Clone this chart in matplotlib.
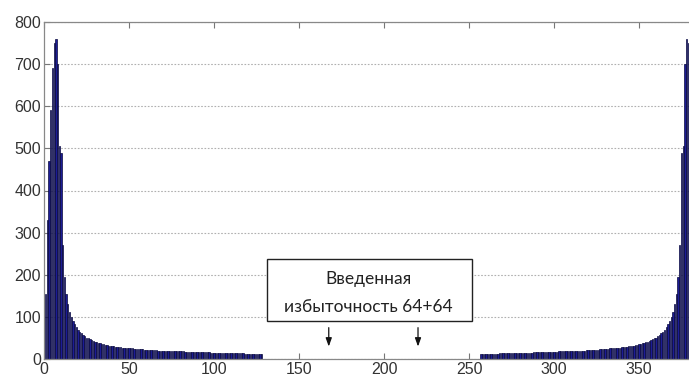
import numpy as np
import matplotlib
matplotlib.use("Agg")
import matplotlib.pyplot as plt
from matplotlib.patches import Rectangle

# Spectrum magnitudes: low-frequency block (bins 1..128)
low_bins = list(range(1, 129))
low_vals = [
    155, 330, 470, 590, 690, 750, 760, 700, 505, 490,
    270, 195, 155, 130, 112, 100, 90, 82, 75, 70,
    65, 61, 57, 54, 51, 49, 47, 45, 43, 41,
    40, 38, 37, 36, 35, 34, 33, 32, 31, 31,
    30, 29, 29, 28, 28, 27, 27, 26, 26, 25,
    25, 25, 24, 24, 24, 23, 23, 23, 22, 22,
    22, 22, 21, 21, 21, 21, 20, 20, 20, 20,
    20, 19, 19, 19, 19, 19, 18, 18, 18, 18,
    18, 18, 17, 17, 17, 17, 17, 17, 17, 16,
    16, 16, 16, 16, 16, 16, 16, 15, 15, 15,
    15, 15, 15, 15, 15, 15, 15, 14, 14, 14,
    14, 14, 14, 14, 14, 14, 14, 13, 13, 13,
    13, 13, 13, 13, 13, 13, 13, 13,
]

# Inserted redundancy: zero bins 129..256 (64+64)
gap_bins = list(range(129, 257))
gap_vals = [0] * 128

# High-frequency block (bins 257..384)
high_bins = list(range(257, 385))
high_vals = [
    13, 13, 13, 13, 13, 13, 13, 13,
    13, 13, 13, 14, 14, 14, 14, 14, 14, 14,
    14, 14, 14, 15, 15, 15, 15, 15, 15, 15,
    15, 15, 15, 16, 16, 16, 16, 16, 16, 16,
    16, 17, 17, 17, 17, 17, 17, 17, 18, 18,
    18, 18, 18, 18, 19, 19, 19, 19, 19, 20,
    20, 20, 20, 20, 21, 21, 21, 21, 22, 22,
    22, 22, 23, 23, 23, 24, 24, 24, 25, 25,
    25, 26, 26, 27, 27, 28, 28, 29, 29, 30,
    31, 31, 32, 33, 34, 35, 36, 37, 38, 40,
    41, 43, 45, 47, 49, 51, 54, 57, 61, 65,
    70, 75, 82, 90, 100, 112, 130, 155, 195, 270,
    490, 505, 700, 760, 750, 690, 590, 470, 330, 155,
]

bins = low_bins + gap_bins + high_bins
vals = low_vals + gap_vals + high_vals

xticks = [0, 50, 100, 150, 200, 250, 300, 350]
yticks = [0, 100, 200, 300, 400, 500, 600, 700, 800]

W, H = 689, 383
fig = plt.figure(figsize=(W / 100, H / 100), dpi=100)
ax = fig.add_axes([44 / W, 24 / H, (W - 44) / W, 337 / H])

ax.bar(bins, vals, width=0.8, color="#1c1c96", edgecolor="#0a0a3c",
       linewidth=0.5, zorder=2)

ax.set_xlim(0, 379.4)
ax.set_ylim(0, 800)
ax.set_xticks(xticks)
ax.set_yticks(yticks)

tick_font = dict(family="Liberation Sans", size=11.5)
ax.set_xticklabels([str(t) for t in xticks], **tick_font, color="#333333")
ax.set_yticklabels([str(t) for t in yticks], **tick_font, color="#333333")
ax.tick_params(axis="both", direction="in", length=4, color="#777777",
               width=0.8, top=True, right=False, pad=2)

ax.grid(axis="y", linestyle=(0, (1.5, 1.5)), color="#b0b0b0", linewidth=0.8,
        zorder=0)
ax.grid(axis="x", visible=False)
ax.set_axisbelow(True)

for side in ("left", "bottom", "top"):
    ax.spines[side].set_color("#888888")
    ax.spines[side].set_linewidth(0.9)
ax.spines["right"].set_visible(False)

# Annotation box with arrows pointing to the zero block
ax.add_patch(Rectangle((131, 91), 121, 146, facecolor="white",
                       edgecolor="#222222", linewidth=1.0, zorder=5))
label_font = dict(family="Lato", size=12.5, color="#222222")
ax.text(191, 190, "Введенная", ha="center", va="center", zorder=6,
        **label_font)
ax.text(191, 124, "избыточность 64+64", ha="center", va="center", zorder=6,
        **label_font)
for xa in (167.5, 220):
    ax.annotate("", xy=(xa, 23), xytext=(xa, 81),
                arrowprops=dict(arrowstyle="-|>,head_length=0.5,head_width=0.18",
                                color="#111111", lw=0.9), zorder=6)

fig.savefig("out.png", dpi=100)
